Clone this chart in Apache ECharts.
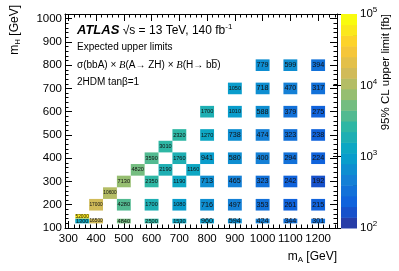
<!DOCTYPE html>
<html><head><meta charset="utf-8">
<script src="https://cdn.jsdelivr.net/npm/echarts@6/dist/echarts.min.js"></script>
<style>html,body{margin:0;padding:0;background:#fff}#c{width:399px;height:271px}</style>
</head><body><div id="c"></div>
<script>
// ---- data ----
const rowMH = [800, 700, 600, 500, 450, 400, 350, 300, 250, 200, 150, 130];
const rowMA = [
  [1000, 1100, 1200],
  [900, 1000, 1100, 1200],
  [800, 900, 1000, 1100, 1200],
  [700, 800, 900, 1000, 1100, 1200],
  [650],
  [600, 700, 800, 900, 1000, 1100, 1200],
  [550, 650, 750],
  [500, 600, 700, 800, 900, 1000, 1100, 1200],
  [450],
  [400, 500, 600, 700, 800, 900, 1000, 1100, 1200],
  [350],
  [350, 400, 500, 600, 700, 800, 900, 1000, 1100, 1200]
];
const rowLimit = [
  [779, 599, 394],
  [1050, 718, 470, 317],
  [1700, 1010, 588, 379, 275],
  [2320, 1270, 738, 474, 323, 238],
  [3010],
  [3590, 1760, 941, 580, 400, 294, 224],
  [4820, 2190, 1160],
  [7130, 2350, 1190, 713, 465, 323, 242, 192],
  [10600],
  [17000, 4280, 1700, 1080, 716, 497, 353, 261, 215],
  [52000],
  [1300, 16500, 4840, 2500, 1530, 960, 594, 424, 344, 301]
];
const xMajorTicks = [300, 400, 500, 600, 700, 800, 900, 1000, 1100, 1200];
const yMajorTicks = [100, 200, 300, 400, 500, 600, 700, 800, 900, 1000];
const zDecades = [2, 3, 4, 5];

// ---- helpers ----
const cells = [];
rowMH.forEach((mh, r) => rowMA[r].forEach((ma, i) => {
  const v = rowLimit[r][i];
  cells.push([ma, mh, Math.log10(v), v]);
}));
function yBin(mh) {
  if (mh === 130) return [120, 140];
  if (mh === 150) return [140, 160];
  return [mh - 25, mh + 25];
}
const bird = [[0.2082,0.1664,0.5293],[0.0592,0.3599,0.8684],[0.0780,0.5041,0.8385],[0.0232,0.6419,0.7914],[0.1802,0.7178,0.6425],[0.5301,0.7492,0.4662],[0.8186,0.7328,0.3499],[0.9956,0.7862,0.1968],[0.9764,0.9832,0.0539]];
function birdColor(t) {
  const s = t * 8, k = Math.min(7, Math.floor(s)), f = s - k;
  const c = bird[k].map((a, j) => Math.round(255 * (a + (bird[k + 1][j] - a) * f)));
  return 'rgb(' + c.join(',') + ')';
}
const NB = 20, zMin = 2, zMax = 5, dz = (zMax - zMin) / NB;
const pieces = [], bands = [];
for (let i = 0; i < NB; i++) {
  const idx = Math.floor((i + 0.99) * 255 / NB);
  pieces.push({ gte: zMin + i * dz, lt: zMin + (i + 1) * dz + (i === NB - 1 ? 1 : 0), color: birdColor(idx / 254) });
  bands.push([0, zMin + i * dz, zMin + (i + 0.5) * dz, zMin + (i + 1) * dz]);
}
const xMinor = [], yMinor = [], zMinor = [];
for (let v = 300; v <= 1260; v += 20) if (v % 100) xMinor.push(v);
for (let v = 120; v <= 1020; v += 20) if (v % 100) yMinor.push(v);
for (let d = 2; d < 5; d++) for (let k = 2; k <= 9; k++) zMinor.push(d + Math.log10(k));

const FONT = 'Liberation Sans, Arial, sans-serif';
const XR = [288, 1268], YR = [100, 1020];
function axisBase(extra) {
  return Object.assign({
    type: 'value', gridIndex: 0, splitLine: { show: false },
    axisLine: { show: true, lineStyle: { color: '#000', width: 1 } },
    axisLabel: { show: false }, axisPointer: { show: false }
  }, extra);
}
const tickMaj = (vals) => ({ show: true, inside: true, length: 7, customValues: vals, lineStyle: { color: '#000' } });
const tickMin = (vals) => ({ show: true, inside: true, length: 3.5, customValues: vals, lineStyle: { color: '#000' } });
const plain = (v) => String(Math.round(v));

const chart = echarts.init(document.getElementById('c'), null, { renderer: 'canvas' });
chart.setOption({
  animation: false,
  backgroundColor: '#fff',
  grid: [
    { left: 65, top: 14, width: 272, height: 214, containLabel: false },
    { left: 341, top: 14, width: 16, height: 214, containLabel: false }
  ],
  xAxis: [
    axisBase({ position: 'bottom', min: XR[0], max: XR[1], axisTick: tickMaj(xMajorTicks),
      axisLabel: { show: true, customValues: xMajorTicks, formatter: plain, hideOverlap: false, interval: 0,
        showMinLabel: true, showMaxLabel: true,
        fontSize: 11.5, color: '#000', fontFamily: FONT, margin: 5 } }),
    axisBase({ position: 'bottom', min: XR[0], max: XR[1], axisTick: tickMin(xMinor), axisLine: { show: false } }),
    axisBase({ position: 'top', min: XR[0], max: XR[1], axisTick: tickMaj(xMajorTicks) }),
    axisBase({ position: 'top', min: XR[0], max: XR[1], axisTick: tickMin(xMinor), axisLine: { show: false } }),
    { type: 'value', gridIndex: 1, min: 0, max: 1, show: false }
  ],
  yAxis: [
    axisBase({ position: 'left', min: YR[0], max: YR[1], axisTick: tickMaj(yMajorTicks),
      axisLabel: { show: true, customValues: yMajorTicks, formatter: plain, hideOverlap: false, interval: 0,
        showMinLabel: true, showMaxLabel: true,
        fontSize: 11.5, color: '#000', fontFamily: FONT, margin: 3 } }),
    axisBase({ position: 'left', min: YR[0], max: YR[1], axisTick: tickMin(yMinor), axisLine: { show: false } }),
    axisBase({ position: 'right', min: YR[0], max: YR[1], axisTick: tickMaj(yMajorTicks) }),
    axisBase({ position: 'right', min: YR[0], max: YR[1], axisTick: tickMin(yMinor), axisLine: { show: false } }),
    axisBase({ gridIndex: 1, position: 'right', min: zMin, max: zMax, axisLine: { show: false },
      axisTick: { show: true, inside: true, length: 8, customValues: zDecades, lineStyle: { color: '#000' } },
      axisLabel: { show: true, customValues: zDecades, margin: 3, color: '#000', fontFamily: FONT,
        showMinLabel: true, showMaxLabel: true, hideOverlap: false,
        formatter: (v) => '{b|10}{s|' + Math.round(v) + '}',
        rich: { b: { fontSize: 11.5, fontFamily: FONT, color: '#000', lineHeight: 16 },
                s: { fontSize: 8, fontFamily: FONT, color: '#000', lineHeight: 8, verticalAlign: 'top' } } } }),
    axisBase({ gridIndex: 1, position: 'right', min: zMin, max: zMax, axisLine: { show: false },
      axisTick: { show: true, inside: true, length: 4, customValues: zMinor, lineStyle: { color: '#000' } } })
  ],
  visualMap: {
    type: 'piecewise', show: false, dimension: 2, seriesIndex: [0, 1], pieces: pieces
  },
  series: [
    {
      type: 'custom', xAxisIndex: 0, yAxisIndex: 0, data: cells, clip: true,
      renderItem: function (params, api) {
        const x = api.value(0), y = api.value(1), v = api.value(3);
        const yb = yBin(y);
        const p0 = api.coord([x - 25, yb[1]]), p1 = api.coord([x + 25, yb[0]]);
        const txt = String(v);
        const fs = txt.length >= 5 ? 4.8 : (txt.length === 4 ? 5.6 : 7.2);
        return { type: 'group', children: [
          { type: 'rect', shape: { x: p0[0], y: p0[1], width: p1[0] - p0[0], height: p1[1] - p0[1] },
            style: { fill: api.visual('color') } },
          { type: 'text', style: { text: txt, x: (p0[0] + p1[0]) / 2, y: (p0[1] + p1[1]) / 2,
            align: 'center', verticalAlign: 'middle', fontSize: fs, fontFamily: FONT, fill: '#111' } }
        ] };
      }
    },
    {
      type: 'custom', xAxisIndex: 4, yAxisIndex: 4, data: bands,
      renderItem: function (params, api) {
        const p0 = api.coord([0, api.value(3)]), p1 = api.coord([1, api.value(1)]);
        return { type: 'rect', shape: { x: p0[0], y: p0[1], width: p1[0] - p0[0], height: p1[1] - p0[1] + 0.5 },
          style: { fill: api.visual('color') } };
      }
    }
  ],
  graphic: [
    { type: 'text', left: 77, top: 23, style: { text: '{a|ATLAS} {b|√s = 13 TeV, 140 fb}{c|-1}',
      rich: { a: { fontSize: 13, fontWeight: 'bold', fontStyle: 'italic', fontFamily: FONT, fill: '#000', lineHeight: 15 },
              b: { fontSize: 12, fontFamily: FONT, fill: '#000', lineHeight: 15 },
              c: { fontSize: 8, fontFamily: FONT, fill: '#000', lineHeight: 8, verticalAlign: 'top' } } } },
    { type: 'text', left: 77, top: 42, style: { text: 'Expected upper limits', fontSize: 10, fontFamily: FONT, fill: '#000' } },
    { type: 'text', left: 77, top: 60, style: { text: 'σ(bbA) × {i|B}(A→ ZH) × {i|B}(H→ bb\u0305)',
      fontSize: 10, fontFamily: FONT, fill: '#000',
      rich: { i: { fontSize: 10.5, fontStyle: 'italic', fontFamily: 'Liberation Serif, serif', fill: '#000' } } } },
    { type: 'text', left: 77, top: 77, style: { text: '2HDM tanβ=1', fontSize: 10, fontFamily: FONT, fill: '#000' } },
    { type: 'text', x: 337, y: 257, style: { text: '{a|m}{s|A}{a| [GeV]}', align: 'right', verticalAlign: 'middle',
      rich: { a: { fontSize: 12, fontFamily: FONT, fill: '#000', lineHeight: 14 },
              s: { fontSize: 8, fontFamily: FONT, fill: '#000', lineHeight: 8, verticalAlign: 'bottom' } } } },
    { type: 'text', x: 15, y: 5, rotation: Math.PI / 2, style: { text: '{a|m}{s|H}{a| [GeV]}', align: 'right', verticalAlign: 'middle',
      rich: { a: { fontSize: 12, fontFamily: FONT, fill: '#000', lineHeight: 14 },
              s: { fontSize: 8, fontFamily: FONT, fill: '#000', lineHeight: 8, verticalAlign: 'bottom' } } } },
    { type: 'text', x: 386, y: 14, rotation: Math.PI / 2, style: { text: '95% CL upper limit [fb]', align: 'right', verticalAlign: 'middle',
      fontSize: 11.5, fontFamily: FONT, fill: '#000' } }
  ]
});
</script></body></html>
